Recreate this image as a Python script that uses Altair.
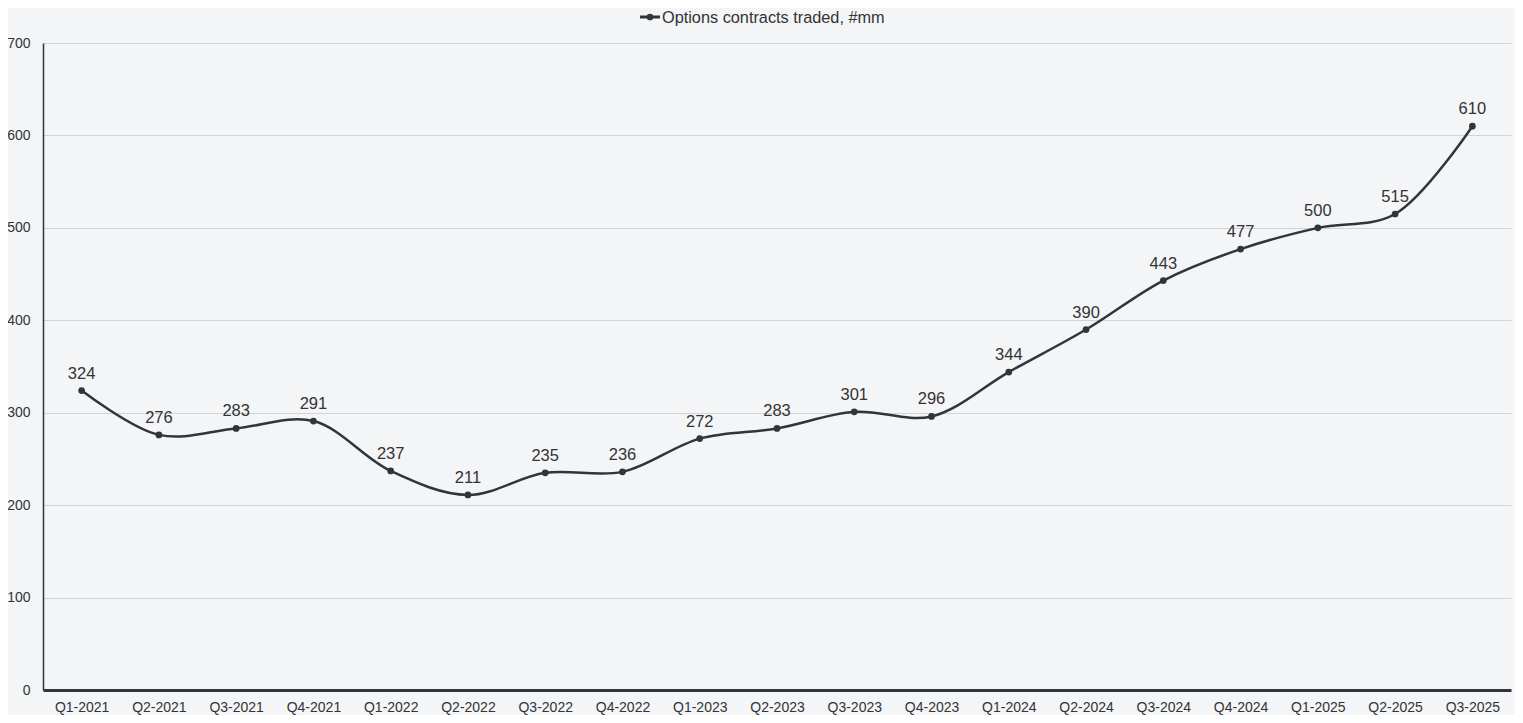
import altair as alt
import pandas as pd

quarters = ["Q1-2021", "Q2-2021", "Q3-2021", "Q4-2021", "Q1-2022", "Q2-2022", "Q3-2022",
            "Q4-2022", "Q1-2023", "Q2-2023", "Q3-2023", "Q4-2023", "Q1-2024", "Q2-2024",
            "Q3-2024", "Q4-2024", "Q1-2025", "Q2-2025", "Q3-2025"]
contracts = [324, 276, 283, 291, 237, 211, 235, 236, 272, 283, 301, 296, 344, 390,
             443, 477, 500, 515, 610]
series_name = "Options contracts traded, #mm"

df = pd.DataFrame({"quarter": quarters, "value": contracts})

LINE = "#2f3539"
FONT = "Liberation Sans"

x = alt.X("quarter:N", sort=quarters, title=None,
          scale=alt.Scale(paddingInner=0, paddingOuter=0, align=0.5),
          axis=alt.Axis(labelAngle=0, labelFontSize=14, labelColor="#333", labelFont=FONT,
                        ticks=False, labelPadding=10, domainColor=LINE, domainWidth=3,
                        grid=False))
y = alt.Y("value:Q", title=None,
          scale=alt.Scale(domain=[0, 700], nice=False),
          axis=alt.Axis(values=[0, 100, 200, 300, 400, 500, 600, 700], labelFontSize=14,
                        labelColor="#333", labelFont=FONT, ticks=False, labelPadding=13,
                        domainColor=LINE, domainWidth=1.5, gridColor="#d3d3d3",
                        gridWidth=1))

base = alt.Chart(df)
line = base.mark_line(color=LINE, strokeWidth=2.5, interpolate="catmull-rom").encode(x=x, y=y)
pts = base.mark_point(color=LINE, filled=True, opacity=1, size=45).encode(x=x, y=y)
labels = base.mark_text(color="#333", fontSize=16.5, font=FONT, baseline="middle", dy=-17).encode(
    x=x, y=y, text=alt.Text("value:Q"))

legend_df = pd.DataFrame({"name": [series_name]})
leg_line = alt.Chart(legend_df).mark_rule(color=LINE, strokeWidth=3).encode(
    x=alt.value(597), x2=alt.value(617), y=alt.value(-26))
leg_pt = alt.Chart(legend_df).mark_point(color=LINE, filled=True, opacity=1, size=45).encode(
    x=alt.value(607), y=alt.value(-26))
leg_text = alt.Chart(legend_df).mark_text(color="#333", fontSize=16.3, font=FONT, align="left",
                                          baseline="middle").encode(
    x=alt.value(619), y=alt.value(-25), text="name:N")

chart = alt.layer(line, pts, labels, leg_line, leg_pt, leg_text).properties(
    width=1468, height=647,
    autosize=alt.AutoSizeParams(type="none"),
    padding={"left": 35, "top": 35, "right": 4, "bottom": 25},
    background="#f3f5f7",
).configure_view(stroke=None)

chart.save("out.html", embed_options={"renderer": "svg", "actions": False})
